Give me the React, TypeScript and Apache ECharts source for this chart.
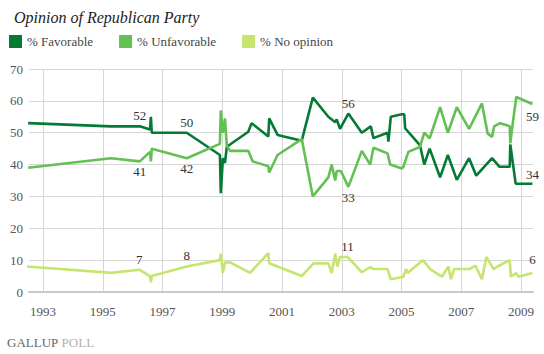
import React, { useEffect, useRef } from "react";
import * as echarts from "echarts";

const yearTicks = [1993, 1995, 1997, 1999, 2001, 2003, 2005, 2007, 2009];

const favYears = [1992.5, 1995.27, 1996.24, 1996.58, 1996.61, 1996.64, 1997.81, 1998.92, 1998.95, 1999.02, 1999.09, 1999.15, 1999.26, 1999.87, 1999.98, 2000.54, 2000.57, 2000.85, 2001.66, 2002.03, 2002.55, 2002.78, 2002.83, 2002.94, 2003.22, 2003.67, 2003.97, 2004.06, 2004.53, 2004.56, 2004.64, 2005.01, 2005.09, 2005.12, 2005.62, 2005.76, 2005.94, 2006.29, 2006.55, 2006.85, 2007.26, 2007.5, 2008.03, 2008.28, 2008.62, 2008.64, 2008.82, 2009.38];
const favValues = [53, 52, 52, 51, 55, 50, 50, 43, 31, 42, 40.5, 45.5, 46.3, 50.3, 53, 48.8, 54.5, 49.3, 47.5, 61, 55, 53.3, 54.2, 51.2, 56, 50, 52, 48.3, 50, 47.2, 55, 55.8, 55.8, 51.4, 46, 40, 45, 36, 43, 35.2, 42, 36.5, 42, 39.3, 39.3, 46.3, 34, 34];

const unfavYears = [1992.5, 1995.27, 1996.24, 1996.58, 1996.61, 1996.64, 1997.81, 1998.92, 1998.95, 1999.02, 1999.09, 1999.15, 1999.26, 1999.87, 2000.02, 2000.54, 2000.57, 2000.85, 2001.66, 2002.03, 2002.55, 2002.66, 2002.78, 2002.83, 2002.97, 2003.22, 2003.67, 2003.95, 2004.06, 2004.53, 2004.62, 2005.01, 2005.06, 2005.23, 2005.62, 2005.76, 2005.94, 2006.29, 2006.55, 2006.85, 2007.26, 2007.69, 2007.88, 2008.03, 2008.1, 2008.3, 2008.55, 2008.62, 2008.64, 2008.73, 2008.84, 2009.38];
const unfavValues = [39, 42, 41, 44, 41, 45, 42, 46.5, 57, 50, 54.5, 46, 44.3, 44.3, 41, 39.5, 37.5, 43, 48, 30, 36, 40, 35, 38, 38, 33, 44.3, 40, 45.3, 43.5, 40, 38.8, 39.3, 44, 45.6, 50, 48.2, 58, 50, 58, 51.2, 59.2, 49.8, 48.7, 52, 53, 52.3, 52, 46.7, 53.5, 61.2, 59];

const noOpYears = [1992.46, 1995.29, 1996.22, 1996.58, 1996.61, 1996.64, 1997.81, 1998.92, 1998.95, 1999.02, 1999.09, 1999.26, 1999.93, 2000.54, 2000.57, 2001.66, 2002.05, 2002.55, 2002.66, 2002.78, 2002.85, 2002.94, 2003.19, 2003.67, 2003.95, 2004.06, 2004.53, 2004.64, 2005.06, 2005.15, 2005.2, 2005.71, 2005.98, 2006.35, 2006.57, 2006.65, 2006.76, 2007.28, 2007.47, 2007.69, 2007.84, 2008.08, 2008.21, 2008.62, 2008.66, 2008.84, 2008.92, 2009.38];
const noOpValues = [8, 6, 7, 5, 3, 5, 8, 10, 12, 6, 9.3, 9.3, 6, 12.2, 9, 5, 9, 9, 6, 12, 8, 11, 11, 6.2, 7.8, 7.2, 7.2, 4, 4.8, 7.2, 6, 10, 7, 4.8, 8, 4, 7.2, 7.2, 8.3, 4, 11, 7.2, 8, 10, 4.8, 5.9, 4.8, 6];

const seriesNames = ["% Favorable", "% Unfavorable", "% No opinion"];
const colors = ["#047a35", "#62c152", "#c6e56f"];

// labelled points: [index, position, distance]
const favLabels: [number, string, number][] = [[2, "top", 4], [6, "top", 4], [24, "top", 4], [47, "top", 3]];
const unfavLabels: [number, string, number][] = [[2, "bottom", 4], [6, "bottom", 4], [25, "bottom", 4], [51, "bottom", 6]];
const noOpLabels: [number, string, number][] = [[2, "top", 4], [6, "top", 5], [22, "top", 4], [47, "top", 7]];

const SERIF = "'Liberation Serif', 'DejaVu Serif', serif";

function buildData(xs: number[], ys: number[], labels: [number, string, number][]) {
  return xs.map((x, i) => {
    const l = labels.find((d) => d[0] === i);
    if (!l) return [x, ys[i]];
    return {
      value: [x, ys[i]],
      label: { show: true, position: l[1], distance: l[2] },
    };
  });
}

export default function App() {
  const ref = useRef<HTMLDivElement>(null);
  useEffect(() => {
    if (!ref.current) return;
    const chart = echarts.init(ref.current, null, { renderer: "svg" });
    const mkSeries = (name: string, color: string, data: any[], z: number) => ({
      name,
      type: "line",
      data,
      z,
      showSymbol: true,
      symbol: "circle",
      symbolSize: 0,
      silent: true,
      lineStyle: { color, width: 2.6 },
      itemStyle: { color },
      label: {
        show: false,
        formatter: (p: any) => String(p.value[1]),
        fontFamily: SERIF,
        fontSize: 13,
        color: "#333",
      },
      emphasis: { disabled: true },
    });
    chart.setOption({
      animation: false,
      title: {
        text: "Opinion of Republican Party",
        left: 9,
        top: 4,
        textStyle: {
          fontFamily: SERIF,
          fontStyle: "italic",
          fontWeight: "normal",
          fontSize: 16,
          color: "#222",
        },
      },
      legend: {
        data: seriesNames,
        left: 9,
        top: 35,
        icon: "rect",
        itemWidth: 13,
        itemHeight: 13,
        itemGap: 26,
        padding: 0,
        textStyle: { fontFamily: SERIF, fontSize: 13, color: "#444" },
        selectedMode: false,
      },
      grid: { left: 29, right: 11, top: 69, bottom: 62, containLabel: false },
      xAxis: {
        type: "value",
        min: 1992.53,
        max: 2009.4,
        axisLine: { show: true, lineStyle: { color: "#c8c8c8", width: 2 } },
        axisTick: { show: false, customValues: yearTicks },
        axisLabel: {
          customValues: yearTicks,
          formatter: (v: number) => String(v),
          fontFamily: SERIF,
          fontSize: 13,
          color: "#555",
          margin: 13,
        },
        splitLine: { show: true, lineStyle: { color: "#d6d6d6", width: 1 } },
      },
      yAxis: {
        type: "value",
        min: 0,
        max: 70,
        interval: 10,
        axisLine: { show: false },
        axisTick: { show: false },
        axisLabel: { fontFamily: SERIF, fontSize: 13, color: "#555", margin: 6 },
        splitLine: { lineStyle: { color: "#d6d6d6", width: 1 } },
      },
      graphic: [
        {
          type: "text",
          left: 7,
          top: 336,
          style: {
            text: "{a|GALLUP} {b|POLL}",
            rich: {
              a: { fontFamily: SERIF, fontSize: 13, fill: "#666" },
              b: { fontFamily: SERIF, fontSize: 13, fill: "#b0b0b0" },
            },
          },
        },
      ],
      series: [
        mkSeries(seriesNames[2], colors[2], buildData(noOpYears, noOpValues, noOpLabels), 2),
        mkSeries(seriesNames[0], colors[0], buildData(favYears, favValues, favLabels), 3),
        mkSeries(seriesNames[1], colors[1], buildData(unfavYears, unfavValues, unfavLabels), 4),
      ],
    });
    return () => chart.dispose();
  }, []);
  return (
    <div
      ref={ref}
      style={{ position: "absolute", left: 0, top: 0, width: 544, height: 354, background: "#fff" }}
    />
  );
}
